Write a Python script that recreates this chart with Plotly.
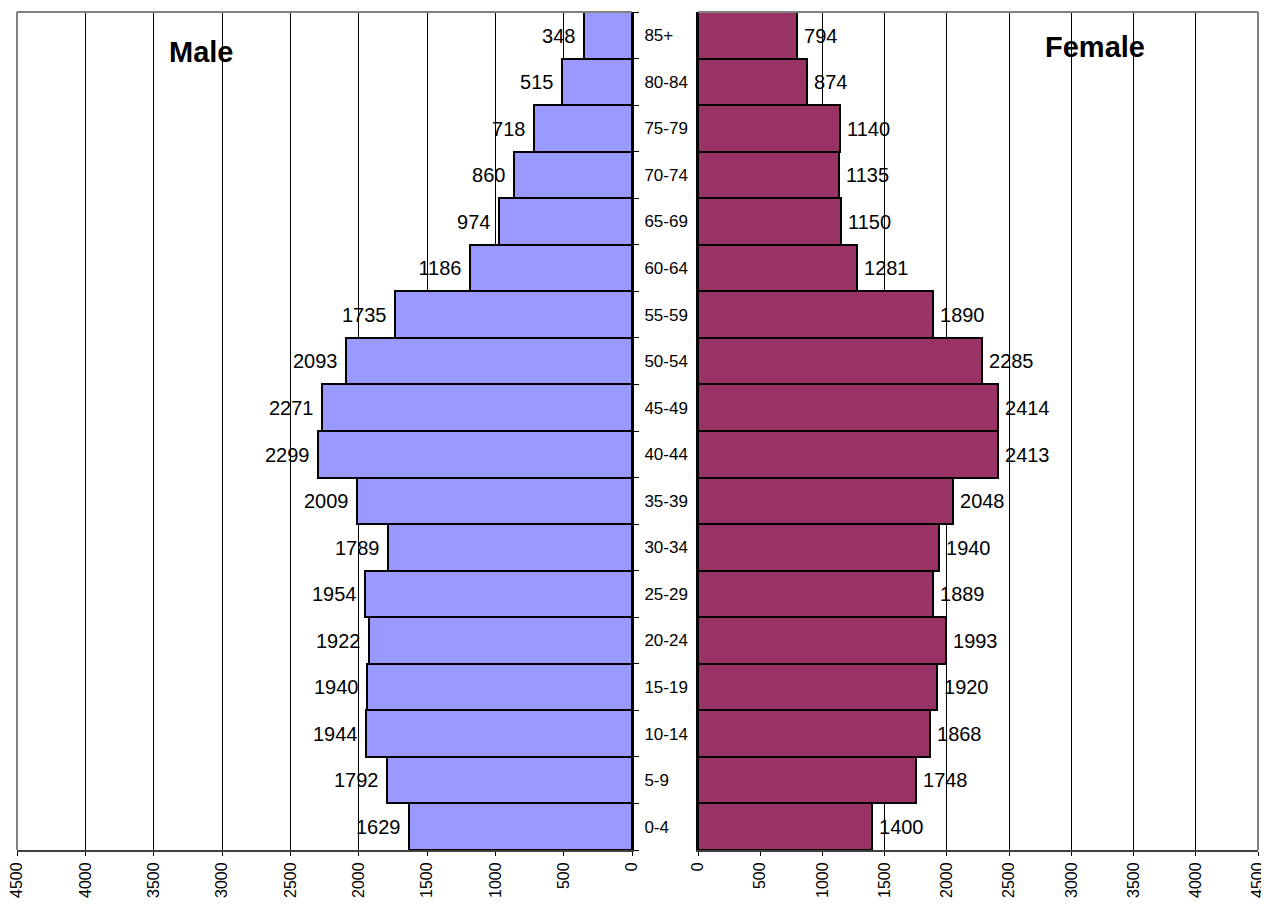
import plotly.graph_objects as go

age_groups = ["0-4", "5-9", "10-14", "15-19", "20-24", "25-29", "30-34", "35-39",
              "40-44", "45-49", "50-54", "55-59", "60-64", "65-69", "70-74",
              "75-79", "80-84", "85+"]
male = [1629, 1792, 1944, 1940, 1922, 1954, 1789, 2009, 2299, 2271, 2093,
        1735, 1186, 974, 860, 718, 515, 348]
female = [1400, 1748, 1868, 1920, 1993, 1889, 1940, 2048, 2413, 2414, 2285,
          1890, 1281, 1150, 1135, 1140, 874, 794]
x_ticks = [0, 500, 1000, 1500, 2000, 2500, 3000, 3500, 4000, 4500]

W, H = 1269, 906
OFF = 8  # page body margin
def px(v): return (v - OFF) / W
def py(v): return 1 - (v - OFF) / H

FONT = "Liberation Sans, Arial, sans-serif"
NB = "\u00a0"
TH = "\u2009"

fig = go.Figure()
fig.add_trace(go.Bar(
    y=age_groups, x=male, orientation="h", xaxis="x", yaxis="y",
    marker=dict(color="#9999FF", line=dict(color="black", width=2)),
    text=[str(v) + NB for v in male], textposition="outside", cliponaxis=False,
    textfont=dict(size=20, color="black", family=FONT), showlegend=False,
    name="Male"))
fig.add_trace(go.Bar(
    y=age_groups, x=female, orientation="h", xaxis="x2", yaxis="y2",
    marker=dict(color="#993366", line=dict(color="black", width=2)),
    text=[TH + str(v) for v in female], textposition="outside", cliponaxis=False,
    textfont=dict(size=20, color="black", family=FONT), showlegend=False,
    name="Female"))

ydom = [py(850), py(12)]
common_x = dict(tickvals=x_ticks, ticktext=[str(v) for v in x_ticks],
                tickangle=-90, ticks="outside", ticklen=4, tickcolor="black",
                showgrid=True, gridcolor="black", gridwidth=1, zeroline=False,
                showline=True, linecolor="#404040", linewidth=2, automargin=False,
                tickfont=dict(size=16, color="black", family=FONT))

fig.update_layout(
    width=W, height=H, margin=dict(l=0, r=0, t=0, b=0, autoexpand=False),
    paper_bgcolor="white", plot_bgcolor="white", bargap=0,
    font=dict(family=FONT, color="black"),
    xaxis=dict(domain=[px(17), px(632)], range=[4500, 0], anchor="y", **common_x),
    xaxis2=dict(domain=[px(698), px(1258)], range=[0, 4500], anchor="y2", **common_x),
    yaxis=dict(domain=ydom, anchor="x", side="right", type="category",
               categoryorder="array", categoryarray=age_groups, automargin=False,
               showline=True, linecolor="black", linewidth=2,
               ticks="outside", tickson="boundaries", ticklen=5, tickcolor="black",
               showgrid=False, tickfont=dict(size=17, color="black", family=FONT),
               ticklabelstandoff=7),
    yaxis2=dict(domain=ydom, anchor="x2", type="category", automargin=False,
                categoryorder="array", categoryarray=age_groups,
                showline=True, linecolor="black", linewidth=2,
                showticklabels=False, ticks="", showgrid=False),
    shapes=[
        dict(type="line", xref="x domain", yref="y domain", x0=0, x1=1, y0=1, y1=1,
             line=dict(color="#808080", width=2)),
        dict(type="line", xref="x domain", yref="y domain", x0=0, x1=0, y0=0, y1=1,
             line=dict(color="#808080", width=2)),
        dict(type="line", xref="x2 domain", yref="y2 domain", x0=0, x1=1, y0=1, y1=1,
             line=dict(color="#808080", width=2)),
        dict(type="line", xref="x2 domain", yref="y2 domain", x0=1, x1=1, y0=0, y1=1,
             line=dict(color="#808080", width=2)),
    ],
    annotations=[
        dict(text="<b>Male</b>", xref="paper", yref="paper", x=px(201), y=py(52),
             xanchor="center", yanchor="middle",
             showarrow=False, font=dict(size=29, color="black", family=FONT)),
        dict(text="<b>Female</b>", xref="paper", yref="paper", x=px(1095), y=py(47),
             xanchor="center", yanchor="middle",
             showarrow=False, font=dict(size=29, color="black", family=FONT)),
    ],
)

fig.write_html("out.html")
